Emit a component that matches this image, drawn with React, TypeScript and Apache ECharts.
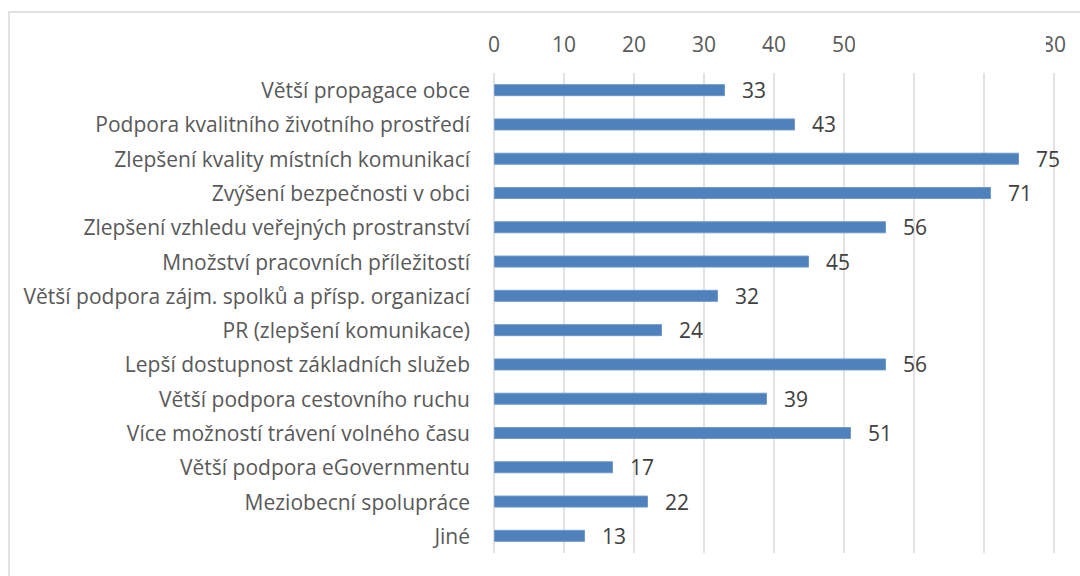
import React, { useEffect, useRef } from "react";
import * as echarts from "echarts";

const categories = [
  "Větší propagace obce",
  "Podpora kvalitního životního prostředí",
  "Zlepšení kvality místních komunikací",
  "Zvýšení bezpečnosti v obci",
  "Zlepšení vzhledu veřejných prostranství",
  "Množství pracovních příležitostí",
  "Větší podpora zájm. spolků a přísp. organizací",
  "PR (zlepšení komunikace)",
  "Lepší dostupnost základních služeb",
  "Větší podpora cestovního ruchu",
  "Více možností trávení volného času",
  "Větší podpora eGovernmentu",
  "Meziobecní spolupráce",
  "Jiné",
];
const values = [33, 43, 75, 71, 56, 45, 32, 24, 56, 39, 51, 17, 22, 13];
const axisMin = 0;
const axisMax = 80;
const axisStep = 10;

const FONT = "'Open Sans', sans-serif";

export default function App() {
  const ref = useRef<HTMLDivElement>(null);
  useEffect(() => {
    if (!ref.current) return;
    const chart = echarts.init(ref.current, undefined, { renderer: "svg" });
    chart.setOption({
      animation: false,
      backgroundColor: "#ffffff",
      textStyle: { fontFamily: FONT },
      grid: { left: 494, right: 26, top: 73, bottom: 23, containLabel: false },
      xAxis: {
        type: "value",
        position: "top",
        min: axisMin,
        max: axisMax,
        interval: axisStep,
        axisLine: { show: false },
        axisTick: { show: false },
        axisLabel: { color: "#595959", fontSize: 21, fontFamily: FONT, margin: 19 },
        splitLine: { show: true, lineStyle: { color: "#d9d9d9", width: 1.5 } },
      },
      yAxis: {
        type: "category",
        data: categories,
        inverse: true,
        axisLine: { show: false },
        axisTick: { show: false },
        axisLabel: { color: "#595959", fontSize: 21, fontFamily: FONT, margin: 24, interval: 0 },
      },
      series: [
        {
          type: "bar",
          data: values,
          barWidth: 12,
          itemStyle: { color: "#4f81bd", borderColor: "#6f98cb", borderWidth: 1 },
          label: {
            show: true,
            position: "right",
            distance: 17,
            color: "#404040",
            fontSize: 21,
            fontFamily: FONT,
          },
        },
      ],
      graphic: [
        {
          type: "rect",
          silent: true,
          shape: { x: 9, y: 12, width: 1200, height: 700 },
          style: { fill: "none", stroke: "#d9d9d9", lineWidth: 1.5 },
        },
        {
          type: "rect",
          silent: true,
          shape: { x: 855, y: 14, width: 191, height: 50 },
          style: { fill: "#ffffff" },
          z: 100,
        },
      ],
    });
    return () => chart.dispose();
  }, []);
  return (
    <div
      ref={ref}
      style={{ position: "fixed", left: 0, top: 0, width: 1080, height: 576 }}
    />
  );
}
